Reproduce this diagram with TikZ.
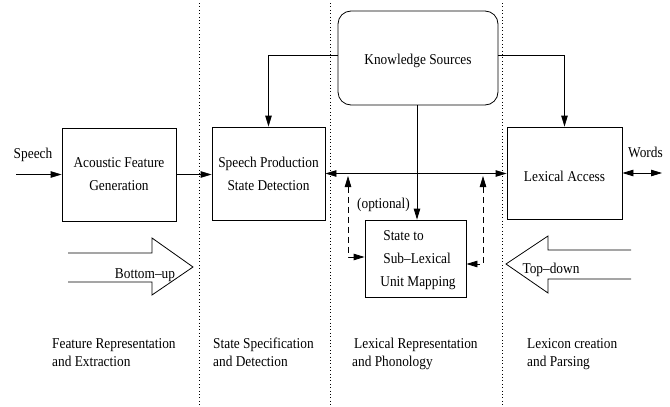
\documentclass[tikz,border=0pt]{standalone}
\usepackage{fontspec}
\setmainfont{Liberation Serif}[FakeStretch=0.89]
\usetikzlibrary{arrows.meta}
\begin{document}
\begin{tikzpicture}[x=1pt,y=-1pt,
  every node/.style={font=\fontsize{15}{23}\selectfont, inner sep=0pt},
  box/.style={draw, line width=0.8pt, align=center},
  ln/.style={line width=0.8pt},
  arr/.style={ln, -{Triangle[length=11pt,width=6.5pt]}},
  darr/.style={ln, {Triangle[length=11pt,width=6.5pt]}-{Triangle[length=11pt,width=6.5pt]}},
  dsh/.style={dash pattern=on 6pt off 4pt},
  sep/.style={line width=0.7pt, dash pattern=on 0.8pt off 2.6pt},
  lowlbl/.style={align=left, font=\fontsize{15}{18}\selectfont, anchor=north west}]
\useasboundingbox (0,0) rectangle (670,407);

% column separators
\draw[sep] (199,3) -- (199,407);
\draw[sep] (330,3) -- (330,407);
\draw[sep] (502,3) -- (502,407);

% boxes
\node[box, minimum width=114pt, minimum height=93pt] (acoustic) at (119,174.5) {Acoustic Feature\\Generation};
\node[box, minimum width=113pt, minimum height=93pt] (spd) at (268.5,173.5) {Speech Production\\State Detection};
\node[box, rounded corners=13pt, minimum width=160pt, minimum height=94pt, text height=12pt, text depth=0pt] (ks) at (418,58) {Knowledge Sources};
\node[box, minimum width=115pt, minimum height=92pt, text height=16pt, text depth=0pt] (lex) at (564.5,173) {Lexical Access};
\node[box, align=left, minimum width=101pt, minimum height=77pt, text depth=0pt] (state) at (415.5,258.5) {\hspace*{8pt}State to\\\hspace*{8pt}Sub--Lexical\\\hspace*{5pt}Unit Mapping};

% labels
\node[anchor=base] (speechlbl) at (33,158) {Speech};
\node[anchor=base] (wordslbl) at (645.5,157) {Words};
\node[anchor=base] (optl) at (383.5,208) {(optional)};

% free ends
\coordinate (speechin) at (16,174.5);
\coordinate (wordsout) at (662,173);
\coordinate (dl) at (348,176);
\coordinate (dr) at (483,176);

% connectors
\draw[arr] (speechin) -- (acoustic.west);
\draw[arr] (acoustic.east) -- (acoustic.east -| spd.west);
\draw[arr] ([yshift=3pt]ks.west) -| (spd.north);
\draw[arr] ([yshift=3pt]ks.east) -| (lex.north);
\draw[arr] ([xshift=-1pt]ks.south) -- ([xshift=-1pt]ks.south |- state.north);
\draw[darr] (spd.east) -- (spd.east -| lex.west);
\draw[darr] (lex.east) -- (wordsout);
\draw[darr, dsh] (dl) |- ([yshift=1.5pt]state.west);
\draw[darr, dsh] (dr) |- ([yshift=-5.5pt]state.east);

% big arrows
\draw[ln, line join=miter] (68,253) -- (152,253) -- (152,238) -- (193,267) -- (152,295) -- (152,282) -- (68,282);
\node (bottomup) at (145,275) {Bottom--up};
\draw[ln, line join=miter] (631,250) -- (548,250) -- (548,236) -- (506,264) -- (548,293) -- (548,279) -- (631,279);
\node (topdown) at (551,270) {Top--down};

% bottom labels
\node[lowlbl] (l1) at (52,338) {Feature Representation\\and Extraction};
\node[lowlbl] (l2) at (213,338) {State Specification\\and Detection};
\node[lowlbl] (l3) at (352,338) {\hspace*{2pt}Lexical Representation\\and Phonology};
\node[lowlbl] (l4) at (527,338) {Lexicon creation\\and Parsing};
\end{tikzpicture}
\end{document}
